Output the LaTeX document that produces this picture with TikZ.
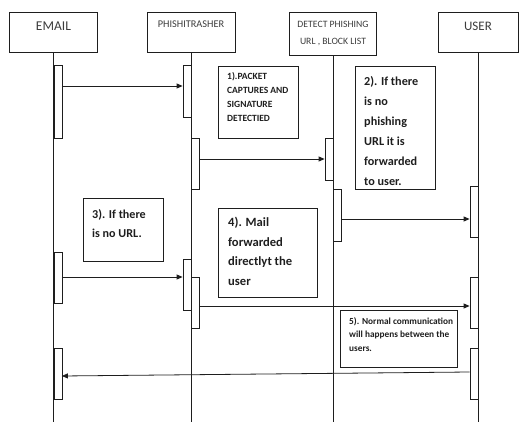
\documentclass[tikz,border=0pt]{standalone}
\usepackage{fontspec}
\setmainfont{Carlito}
\usepackage{xcolor}
\usepackage{tikz}
\usetikzlibrary{positioning, arrows.meta}
\definecolor{headgrey}{HTML}{3C3C3C}
\definecolor{inkgrey}{HTML}{1E1E1E}

\tikzset{
  actor/.style={draw=inkgrey, minimum width=88pt, minimum height=40pt, inner sep=0pt, text=headgrey, align=center},
  highname/.style={text height=#1, text depth=40pt-#1},
  actbar/.style={draw=inkgrey, fill=white, minimum width=8pt, inner sep=0pt},
  notebox/.style={draw=inkgrey, inner sep=0pt},
  notetext/.style={inner sep=0pt, align=left, text=inkgrey, font=\bfseries},
  msg/.style={draw=inkgrey, line width=0.8pt, -{Triangle[length=6pt,width=5pt]}}
}

\begin{document}
\begin{tikzpicture}[x=1pt, y=-1pt]
    \useasboundingbox (0,0) rectangle (519,422);
    \coordinate (bottom) at (0,422);

    % lanes
    \node[actor, highname=19pt, font=\fontsize{13.5}{15}\selectfont] (email) at (53.5,32) {EMAIL};
    \node[actor, highname=15.5pt, font=\fontsize{10.3}{12}\selectfont] (phish) at (191,32) {PHISHITRASHER};
    \node[actor, minimum width=87pt, minimum height=43pt, font=\fontsize{9.7}{17}\selectfont] (detect) at (333,33.5) {DETECT PHISHING\\URL , BLOCK LIST};
    \node[actor, highname=19pt, minimum width=80pt, font=\fontsize{13}{15}\selectfont] (user) at (478,32) {USER};

    \foreach \lane in {email, phish, detect, user}
      \draw[inkgrey] (\lane.south) -- (\lane.south |- bottom);

    % activation bars
    \node[actbar, minimum height=73pt, anchor=north west] (ea1) at (53.5,65) {};
    \node[actbar, minimum height=51pt, anchor=north west] (ea2) at (53.5,252) {};
    \node[actbar, minimum height=51pt, anchor=north west] (ea3) at (53.5,348) {};
    \node[actbar, minimum height=52pt, anchor=north east] (pa1) at (191,65) {};
    \node[actbar, minimum height=51pt, anchor=north west] (pa2) at (191,138) {};
    \node[actbar, minimum height=51pt, anchor=north east] (pa3) at (191,259) {};
    \node[actbar, minimum height=51pt, anchor=north west] (pa4) at (191,277) {};
    \node[actbar, minimum height=42pt, anchor=north east] (da1) at (333,138) {};
    \node[actbar, minimum height=52pt, anchor=north west] (da2) at (333,189) {};
    \node[actbar, minimum height=51pt, anchor=north east] (ua1) at (478,186) {};
    \node[actbar, minimum height=51pt, anchor=north east] (ua2) at (478,277) {};
    \node[actbar, minimum height=51pt, anchor=north east] (ua3) at (478,348) {};

    % messages
    \coordinate (m1) at (0,86);
    \coordinate (m2) at (0,159);
    \coordinate (m3) at (0,219);
    \coordinate (m4) at (0,277);
    \coordinate (m5) at (0,306);
    \coordinate (m6) at (0,372);
    \coordinate (m6e) at (0,376);
    \draw[msg] (ea1.east |- m1) -- (pa1.west |- m1);
    \draw[msg] (pa2.east |- m2) -- (da1.west |- m2);
    \draw[msg] (da2.east |- m3) -- (ua1.west |- m3);
    \draw[msg] (ea2.east |- m4) -- (pa3.west |- m4);
    \draw[msg] (pa4.east |- m5) -- (ua2.west |- m5);
    \draw[msg] (ua3.west |- m6) -- (ea3.east |- m6e);

    % notes
    \node[notebox, minimum width=80pt, minimum height=72pt, anchor=north west] (n1) at (218,66) {};
    \node[notetext, font=\bfseries\fontsize{9.5}{14}\selectfont, below right=6pt and 9pt of n1.north west, anchor=north west]
      {1).PACKET\\CAPTURES AND\\SIGNATURE\\DETECTIED};
    \node[notebox, minimum width=80pt, minimum height=123pt, anchor=north west] (n2) at (355,66) {};
    \node[notetext, font=\bfseries\fontsize{12.2}{20}\selectfont, below right=10pt and 9pt of n2.north west, anchor=north west]
      {2). If there\\is no\\phishing\\URL it is\\forwarded\\to user.};
    \node[notebox, minimum width=80pt, minimum height=63pt, anchor=north west] (n3) at (83,198) {};
    \node[notetext, font=\bfseries\fontsize{12.1}{19}\selectfont, below right=11pt and 9pt of n3.north west, anchor=north west]
      {3). If there\\is no URL.};
    \node[notebox, minimum width=99pt, minimum height=89pt, anchor=north west] (n4) at (218,208) {};
    \node[notetext, font=\bfseries\fontsize{12.6}{19.5}\selectfont, below right=9pt and 10pt of n4.north west, anchor=north west]
      {4). Mail\\forwarded\\directlyt the\\user};
    \node[notebox, minimum width=117pt, minimum height=57pt, anchor=north west] (n5) at (340,310) {};
    \node[notetext, font=\bfseries\fontsize{9.3}{13.5}\selectfont, below right=7pt and 9pt of n5.north west, anchor=north west]
      {5). Normal communication\\will happens between the\\users.};
\end{tikzpicture}
\end{document}
